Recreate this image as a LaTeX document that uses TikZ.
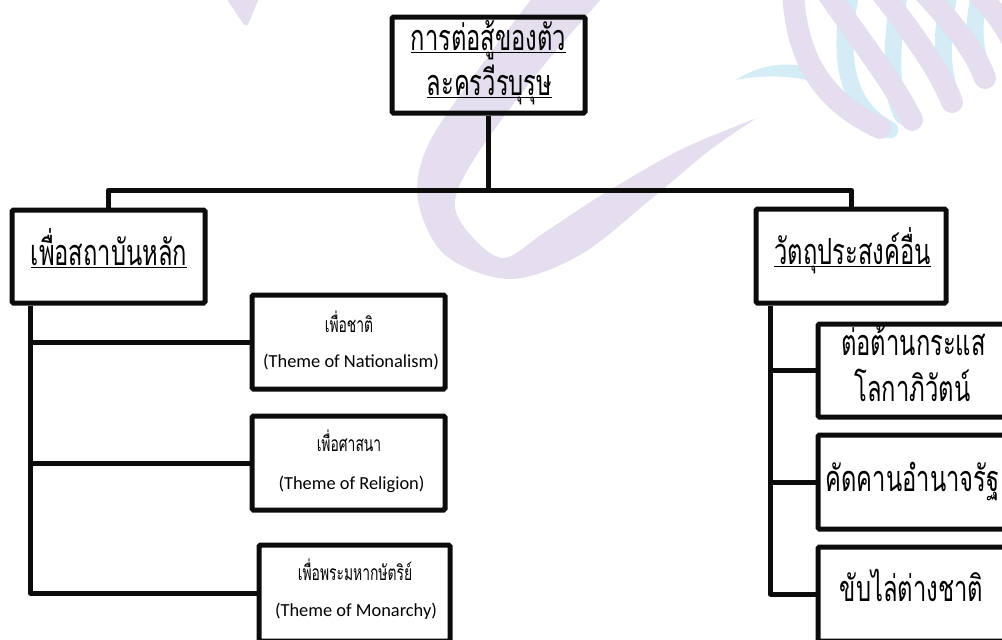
\documentclass[tikz,border=0pt]{standalone}
\usepackage{fontspec}
\setmainfont{Carlito}
\newfontfamily\thaifont[Script=Thai,FakeStretch=0.66]{Loma}
\usetikzlibrary{calc}

% underline that sits just below the baseline, crossing the lower vowels
\newcommand\thaiul[1]{\setbox0\hbox{#1}\rlap{\vrule height -2pt depth 3.3pt width \wd0}\box0}

\definecolor{wmlav}{RGB}{229,222,238}
\definecolor{wmcyan}{RGB}{212,236,246}
\definecolor{ink}{RGB}{12,12,12}

\tikzset{
  box/.style={draw=ink, line width=5pt, rounded corners=1.5pt, inner sep=0pt, rectangle},
  conn/.style={draw=ink, line width=5pt, line join=round},
  bigthai/.style={anchor=base, inner sep=0pt, font=\thaifont\fontsize{36}{42}\selectfont},
  smallthai/.style={anchor=base, inner sep=0pt, font=\thaifont\fontsize{21}{25}\selectfont},
  engl/.style={anchor=base, inner sep=0pt, font=\fontsize{18.4}{22}\selectfont},
}

\begin{document}
\begin{tikzpicture}[x=1pt, y=-1pt]
\useasboundingbox (0,0) rectangle (1002,640);
\begin{scope}
\clip (0,0) rectangle (1002,640);

% ---- background emblem ----
\fill[wmlav] (226,-2) -- (259,-2) -- (248,25) -- (244,25) -- cycle;
\fill[wmlav] plot[smooth, tension=0.55] coordinates
   {(533,-3) (478,70) (428,145) (418,200) (445,255) (510,279) (580,255) (650,200) (710,150) (757,118)}
 -- plot[smooth, tension=0.55] coordinates
   {(757,118) (680,150) (600,196) (545,232) (503,258) (468,232) (455,200) (480,150) (540,70) (603,-3)}
 -- cycle;
\fill[wmcyan] (736,80) .. controls (760,64) and (790,60) .. (818,70)
   -- (815,82) .. controls (790,75) and (760,75) .. (736,80) -- cycle;
\begin{scope}[line cap=round, line width=17pt, draw=wmcyan]
  \draw (852,-12) .. controls (838,50) and (842,105) .. (890,130);
  \draw (900,-12) .. controls (890,50) and (890,95) .. (903,116);
  \draw (950,-12) .. controls (940,40) and (942,70) .. (950,92);
  \draw (982,-12) .. controls (972,20) and (974,45) .. (980,62);
\end{scope}
\begin{scope}[line cap=round, line width=22pt, draw=wmlav]
  \draw (793,-12) .. controls (795,55) and (820,100) .. (880,128);
  \draw (824,-12) .. controls (860,40) and (895,85) .. (912,120);
  \draw (878,-12) .. controls (910,30) and (940,70) .. (952,102);
  \draw (920,-12) .. controls (950,20) and (975,50) .. (985,78);
  \draw (972,-12) .. controls (990,5) and (1005,25) .. (1012,40);
\end{scope}

% ---- boxes ----
\node[box, minimum width=193pt, minimum height=96pt] (top) at (488.5,65) {};
\node[box, minimum width=193pt, minimum height=93pt] (L) at (108.5,256.5) {};
\node[box, minimum width=190pt, minimum height=94pt] (R) at (851,256) {};

\node[box, minimum width=193pt, minimum height=94pt] (L1) at (348.5,342) {};
\node[box, minimum width=193pt, minimum height=94pt] (L2) at (348.5,463) {};
\node[box, minimum width=191pt, minimum height=96pt] (L3) at (354.5,593) {};

\node[box, minimum width=194pt, minimum height=93pt] (R1) at (915,370.5) {};
\node[box, minimum width=194pt, minimum height=94pt] (R2) at (915,482) {};
\node[box, minimum width=194pt, minimum height=94pt] (R3) at (915,594) {};

% ---- connectors ----
\coordinate (bus) at (488.5,190);
\coordinate (trunkL) at ([xshift=21pt]L.south west);
\coordinate (trunkR) at ([xshift=17pt]R.south west);
\draw[conn] (top.south) -- (bus);
\draw[conn] (L.north) |- (bus) -| (R.north);
\draw[conn] (trunkL) |- (L1.west);
\draw[conn] (trunkL) |- (L2.west);
\draw[conn] (trunkL) |- (L3.west);
\draw[conn] (trunkR) |- (R1.west);
\draw[conn] (trunkR) |- (R2.west);
\draw[conn] (trunkR) |- (R3.west);

% ---- texts ----
\node[bigthai] (t1) at (488.5,50) {\thaiul{การต่อสู้ของตัว}};
\node[bigthai] (t2) at (489.5,95) {\thaiul{ละครวีรบุรุษ}};
\node[bigthai] (lt) at (109,265) {\thaiul{เพื่อสถาบันหลัก}};
\node[bigthai] (rt) at (852.5,264) {\thaiul{วัตถุประสงค์อื่น}};

\node[smallthai] (l1a) at (349,332) {เพื่อชาติ};
\node[engl] (l1b) at (351,367) {(Theme of Nationalism)};
\node[smallthai] (l2a) at (349,451.5) {เพื่อศาสนา};
\node[engl] (l2b) at (351.5,489) {(Theme of Religion)};
\node[smallthai] (l3a) at (355,580) {เพื่อพระมหากษัตริย์};
\node[engl] (l3b) at (356,616.5) {(Theme of Monarchy)};

\node[bigthai] (r1a) at (913.5,355) {ต่อต้านกระแส};
\node[bigthai] (r1b) at (912.5,401.5) {โลกาภิวัตน์};
\node[bigthai] (r2) at (912.5,491.5) {คัดคานอำนาจรัฐ};
\node[bigthai] (r3) at (911.5,601.5) {ขับไล่ต่างชาติ};
\end{scope}
\end{tikzpicture}
\end{document}
